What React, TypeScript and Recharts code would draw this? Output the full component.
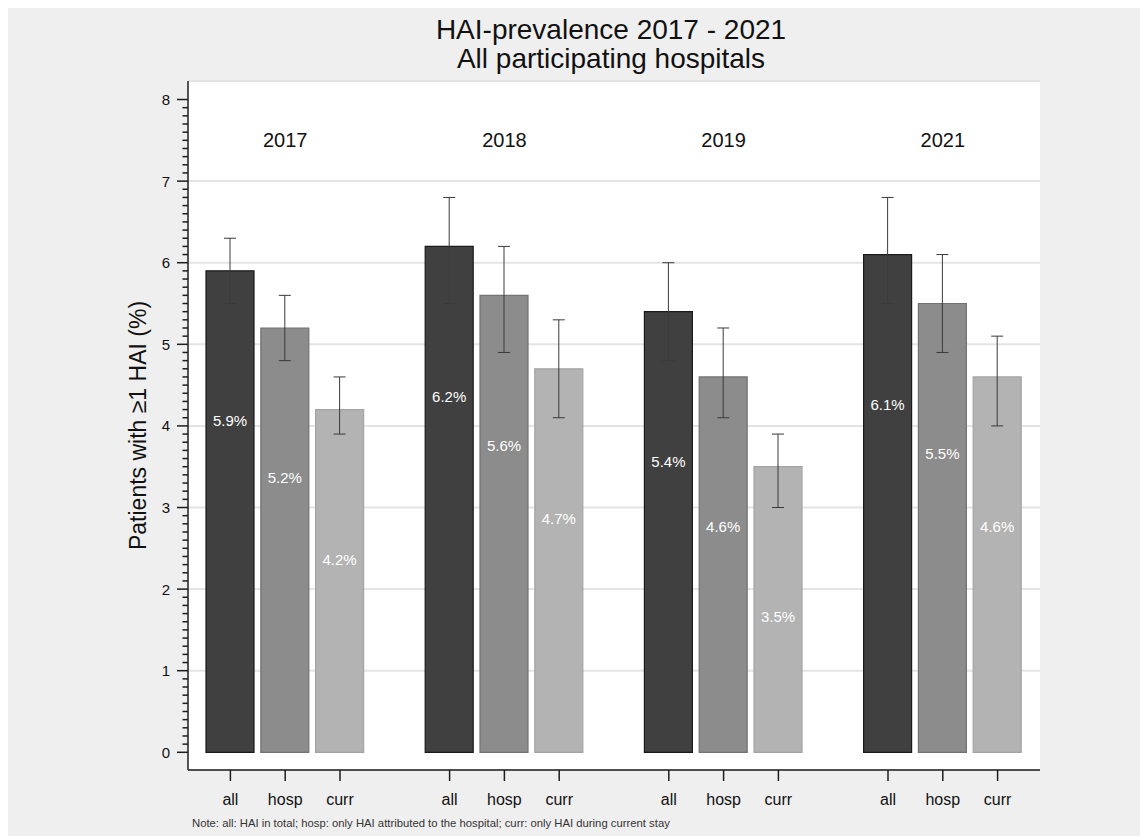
import {
  Bar,
  CartesianGrid,
  Cell,
  ComposedChart,
  ErrorBar,
  LabelList,
  ReferenceDot,
  XAxis,
  YAxis,
} from "recharts"

const YEARS = ["2017", "2018", "2019", "2021"]
const MEASURES = ["all", "hosp", "curr"]

// prevalence (%) per survey year
const PREV_ALL = [5.9, 6.2, 5.4, 6.1]
const PREV_HOSP = [5.2, 5.6, 4.6, 5.5]
const PREV_CURR = [4.2, 4.7, 3.5, 4.6]

// 95% confidence bounds
const LOW_ALL = [5.5, 5.5, 4.8, 5.5]
const HIGH_ALL = [6.3, 6.8, 6.0, 6.8]
const LOW_HOSP = [4.8, 4.9, 4.1, 4.9]
const HIGH_HOSP = [5.6, 6.2, 5.2, 6.1]
const LOW_CURR = [3.9, 4.1, 3.0, 4.0]
const HIGH_CURR = [4.6, 5.3, 3.9, 5.1]

const Y_TICKS = Array.from({ length: 81 }, (_, i) => i / 10)
const GRID_VALUES = [1, 2, 3, 4, 5, 6, 7]
const Y_DOMAIN: [number, number] = [-0.217, 8.227]
const YEAR_LABEL_Y = 7.5

const NOTE =
  "Note: all: HAI in total; hosp: only HAI attributed to the hospital; curr: only HAI during current stay"

const FONT = '"Liberation Sans", Arial, sans-serif'
const INK = "#111"

const FILL: Record<string, string> = { all: "#404040", hosp: "#8c8c8c", curr: "#b3b3b3" }
const EDGE: Record<string, string> = { all: "#1a1a1a", hosp: "#727272", curr: "#a3a3a3" }

const SERIES = [
  { prev: PREV_ALL, low: LOW_ALL, high: HIGH_ALL },
  { prev: PREV_HOSP, low: LOW_HOSP, high: HIGH_HOSP },
  { prev: PREV_CURR, low: LOW_CURR, high: HIGH_CURR },
]

type Row = { key: string; measure?: string; value?: number; err?: [number, number] }

// one slot per bar, plus an empty slot between years
const rows: Row[] = []
YEARS.forEach((year, g) => {
  if (g > 0) rows.push({ key: `gap${g}` })
  MEASURES.forEach((m, i) => {
    const s = SERIES[i]
    const v = s.prev[g]
    rows.push({
      key: `${year}-${m}`,
      measure: m,
      value: v,
      err: [v - s.low[g], s.high[g] - v],
    })
  })
})

function YTick({ x, y, payload }: any) {
  const v = Number(payload.value)
  const major = Math.abs(v - Math.round(v)) < 1e-6
  const len = major ? 11 : 5.5
  return (
    <g>
      <line x1={x - len} x2={x} y1={y} y2={y} stroke="#1e1e1e" strokeWidth={1.5} />
      {major && (
        <text x={x - 18} y={y} textAnchor="end" dominantBaseline="central" fontSize={15} fill={INK}>
          {Math.round(v)}
        </text>
      )}
    </g>
  )
}

function XTick({ x, y, payload }: any) {
  const measure = String(payload.value).split("-")[1]
  if (!measure) return null
  return (
    <g>
      <line x1={x} x2={x} y1={y} y2={y + 11} stroke="#1e1e1e" strokeWidth={1.5} />
      <text x={x} y={y + 34.5} textAnchor="middle" fontSize={16} fill={INK}>
        {measure}
      </text>
    </g>
  )
}

function ValueLabel(props: any) {
  const { x, y, width, value } = props
  if (value == null) return null
  return (
    <text
      x={Number(x) + Number(width) / 2}
      y={Number(y) + 150}
      textAnchor="middle"
      dominantBaseline="central"
      fontSize={15}
      fill="#fff"
    >
      {`${Number(value).toFixed(1)}%`}
    </text>
  )
}

export default function App() {
  return (
    <div
      style={{
        position: "relative",
        width: 1140,
        height: 828,
        background: "#efefef",
        fontFamily: FONT,
        color: INK,
      }}
    >
      <div
        style={{
          position: "absolute",
          left: 603,
          top: 7,
          transform: "translateX(-50%)",
          whiteSpace: "nowrap",
          textAlign: "center",
          fontSize: 28,
          lineHeight: "29px",
        }}
      >
        HAI-prevalence 2017 - 2021
        <br />
        All participating hospitals
      </div>

      <ComposedChart
        width={1140}
        height={828}
        data={rows}
        margin={{ top: 73, right: 108, bottom: 16, left: 100 }}
        style={{ fontFamily: FONT }}
      >
        <CartesianGrid
          yAxisId="grid"
          vertical={false}
          stroke="#e4e4e4"
          strokeWidth={2}
          fill="#ffffff"
          fillOpacity={1}
        />
        <XAxis
          dataKey="key"
          height={50}
          padding={{ left: 15, right: 15 }}
          interval={0}
          tickSize={0}
          tickMargin={0}
          tickLine={false}
          tick={<XTick />}
          axisLine={{ stroke: "#1e1e1e", strokeWidth: 1.5 }}
        />
        <YAxis
          yAxisId="val"
          width={80}
          type="number"
          domain={Y_DOMAIN}
          allowDataOverflow
          ticks={Y_TICKS}
          interval={0}
          tickSize={0}
          tickMargin={0}
          tickLine={false}
          tick={<YTick />}
          axisLine={{ stroke: "#1e1e1e", strokeWidth: 1.5 }}
          label={{
            value: "Patients with ≥1 HAI (%)",
            angle: -90,
            position: "insideLeft",
            offset: 30,
            style: { textAnchor: "middle", fontSize: 23, fill: INK },
          }}
        />
        {/* hidden axis that only feeds the gridlines at 1..7 */}
        <YAxis
          yAxisId="grid"
          orientation="right"
          width={0}
          hide
          type="number"
          domain={Y_DOMAIN}
          allowDataOverflow
          ticks={GRID_VALUES}
          interval={0}
        />
        <Bar dataKey="value" yAxisId="val" barSize={48} strokeWidth={1.2} isAnimationActive={false}>
          {rows.map((r) => (
            <Cell
              key={r.key}
              fill={FILL[r.measure ?? "all"]}
              stroke={EDGE[r.measure ?? "all"]}
            />
          ))}
          <ErrorBar dataKey="err" direction="y" width={6} stroke="#3a3a3a" strokeWidth={1} />
          <LabelList dataKey="value" content={ValueLabel} />
        </Bar>
        {YEARS.map((year) => (
          <ReferenceDot
            key={year}
            yAxisId="val"
            x={`${year}-hosp`}
            y={YEAR_LABEL_Y}
            r={0}
            fill="none"
            stroke="none"
            label={{ value: year, position: "center", fontSize: 20, fill: INK }}
          />
        ))}
      </ComposedChart>

      <div
        style={{
          position: "absolute",
          left: 184,
          top: 809.5,
          fontSize: 11.3,
          lineHeight: "11.3px",
          color: "#333",
          whiteSpace: "nowrap",
        }}
      >
        {NOTE}
      </div>
    </div>
  )
}
